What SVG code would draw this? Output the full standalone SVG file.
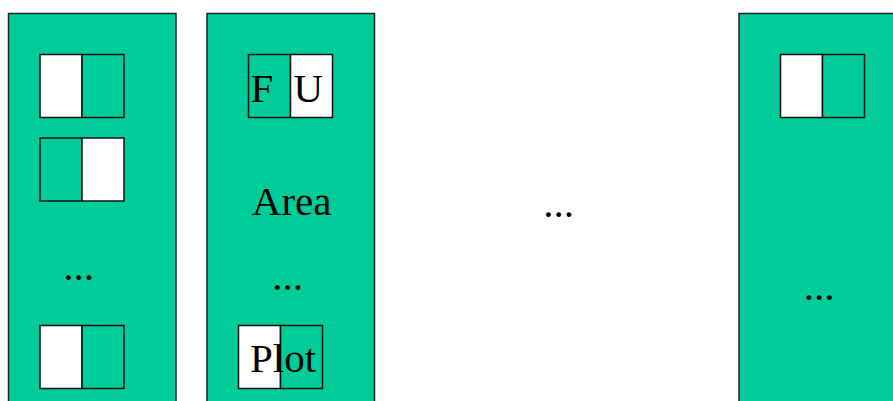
<svg xmlns="http://www.w3.org/2000/svg" width="893" height="401" viewBox="0 0 893 401">
<style>
.col{fill:#00CC99;stroke:#222;stroke-width:1.5}
.g{fill:#00CC99;stroke:#111;stroke-width:1.5}
.w{fill:#ffffff;stroke:#111;stroke-width:1.5}
text{font-family:"Liberation Serif","Times New Roman",serif;font-size:41px;fill:#000}
.m{text-anchor:middle}
</style>
<rect width="893" height="401" fill="#ffffff"/>
<g id="column1">
<rect class="col" x="8.5" y="13.5" width="167.5" height="400"/>
<g id="c1-cell1"><rect class="w" x="40" y="54.5" width="42" height="63"/><rect class="g" x="82" y="54.5" width="42" height="63"/></g>
<g id="c1-cell2"><rect class="g" x="40" y="138" width="42" height="63"/><rect class="w" x="82" y="138" width="42" height="63"/></g>
<text class="m" x="78.5" y="279.5">...</text>
<g id="c1-cell3"><rect class="w" x="40" y="325.5" width="42" height="63"/><rect class="g" x="82" y="325.5" width="42" height="63"/></g>
</g>
<g id="column2">
<rect class="col" x="207" y="13.5" width="167.5" height="400"/>
<g id="c2-fu"><rect class="g" x="248.5" y="54.5" width="42" height="63"/><rect class="w" x="290.5" y="54.5" width="42" height="63"/>
<text x="250.5" y="102">F</text><text x="293.5" y="102">U</text></g>
<text class="m" x="291.7" y="215">Area</text>
<text class="m" x="287.5" y="289.5">...</text>
<g id="c2-plot"><rect class="w" x="238.5" y="325.5" width="42" height="63"/><rect class="g" x="280.5" y="325.5" width="42" height="63"/>
<text x="250" y="372">Plot</text></g>
</g>
<text id="middle-ellipsis" class="m" x="558.5" y="216.5">...</text>
<g id="column3">
<rect class="col" x="739" y="13.5" width="170" height="400"/>
<g id="c3-cell1"><rect class="w" x="780.5" y="54.5" width="42" height="63"/><rect class="g" x="822.5" y="54.5" width="42" height="63"/></g>
<text class="m" x="819" y="299.5">...</text>
</g>
<g id="connectors"/>
</svg>
